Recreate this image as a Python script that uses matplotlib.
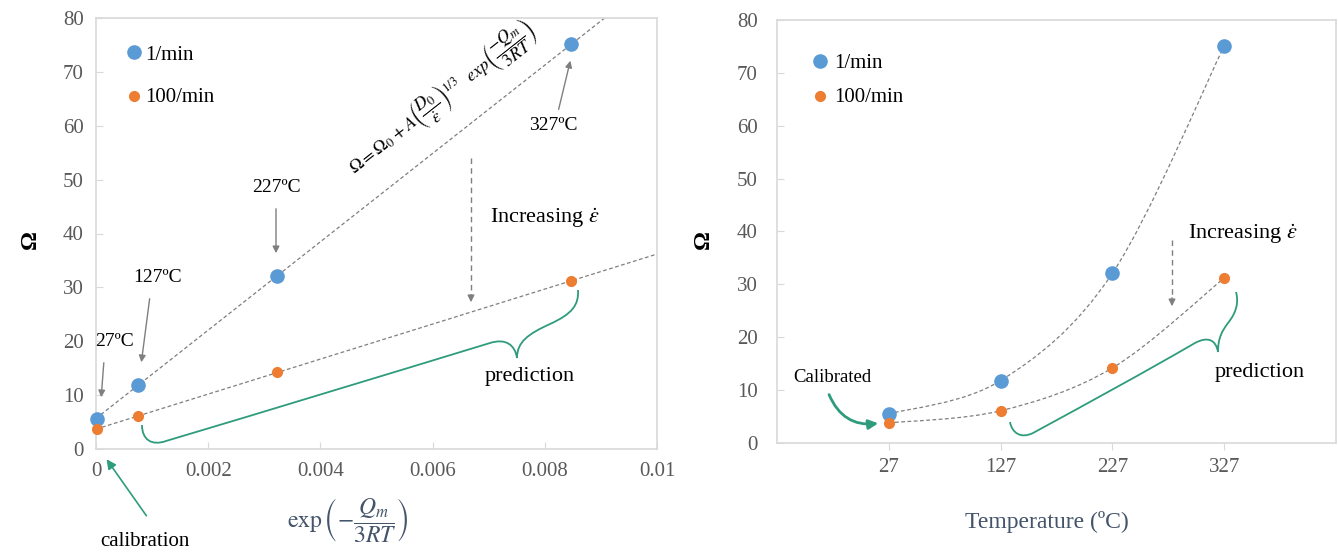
import matplotlib.pyplot as plt
import numpy as np
from matplotlib.lines import Line2D
from matplotlib.path import Path
from matplotlib.patches import PathPatch, FancyArrowPatch

plt.rcParams["font.family"] = ["Liberation Serif", "DejaVu Serif"]
plt.rcParams["mathtext.fontset"] = "stix"

# data
temps = [27, 127, 227, 327]
exp_term = [0.00002, 0.00075, 0.00322, 0.00847]
omega_slow = [5.5, 11.8, 32.1, 75.1]   # 1/min
omega_fast = [3.8, 6.1, 14.2, 31.2]    # 100/min
temp_labels = ["27ºC", "127ºC", "227ºC", "327ºC"]
left_xticks = [0, 0.002, 0.004, 0.006, 0.008, 0.01]
left_xticklabels = ["0", "0.002", "0.004", "0.006", "0.008", "0.01"]

W, H = 1338, 554
BLUE = "#5B9BD5"
ORANGE = "#ED7D31"
GREEN = "#2E9C7C"
GRAY = "#7F7F7F"
TICK = "#595959"
FRAME = "#D9D9D9"
LABEL = "#44546A"


def px(x, y):
    # pixel position in the picture -> figure fraction
    return (x / W, 1 - y / H)


def style(ax):
    for s in ax.spines.values():
        s.set_color(FRAME)
        s.set_linewidth(1.2)
    ax.tick_params(colors=FRAME, labelcolor=TICK, labelsize=15, length=5, direction="in")
    ax.set_ylim(0, 80)
    ax.set_yticks(range(0, 81, 10))


def smooth_path(xs, ys):
    # excel-like smoothed line through the points (bezier segments)
    pts = np.column_stack([xs, ys]).astype(float)
    n = len(pts)
    verts, codes = [pts[0]], [Path.MOVETO]
    for i in range(n - 1):
        p0, p1, p2, p3 = pts[max(i - 1, 0)], pts[i], pts[i + 1], pts[min(i + 2, n - 1)]
        verts += [p1 + (p2 - p0) / 6, p2 - (p3 - p1) / 6, p2]
        codes += [Path.CURVE4] * 3
    return Path(verts, codes)


def arrow(p_from, p_to, color=GRAY, lw=1.0, style="-|>", conn="arc3", scale=10):
    fig.add_artist(FancyArrowPatch(
        px(*p_from), px(*p_to), transform=fig.transFigure, arrowstyle=style,
        mutation_scale=scale, color=color, lw=lw, connectionstyle=conn))


def brace(points):
    codes = [Path.MOVETO] + [Path.CURVE4] * (len(points) - 1)
    verts = [px(*p) for p in points]
    fig.add_artist(PathPatch(Path(verts, codes), fill=False, edgecolor=GREEN,
                             lw=1.3, transform=fig.transFigure))


fig = plt.figure(figsize=(W / 100, H / 100), dpi=100)
ax1 = fig.add_axes([96 / W, 1 - 449 / H, (657 - 96) / W, (449 - 18) / H])
ax2 = fig.add_axes([777 / W, 1 - 443 / H, (1336 - 777) / W, (443 - 20) / H])

# ---------------- left panel ----------------
style(ax1)
ax1.set_xlim(0, 0.01)
ax1.set_xticks(left_xticks)
ax1.set_xticklabels(left_xticklabels)
ax1.tick_params(axis="x", pad=9)
ax1.tick_params(axis="y", pad=9)

xs = np.array([0, 0.01])
fit_slow = np.polyfit(exp_term[1:], omega_slow[1:], 1)
fit_fast = np.polyfit(exp_term[1:], omega_fast[1:], 1)
ax1.plot(xs, np.polyval(fit_slow, xs), ls=(0, (3, 2)), color=GRAY, lw=0.9)
ax1.plot(xs, np.polyval(fit_fast, xs), ls=(0, (3, 2)), color=GRAY, lw=0.9)
ax1.plot(exp_term, omega_slow, "o", color=BLUE, ms=9.5, zorder=5, clip_on=False)
ax1.plot(exp_term, omega_fast, "o", color=ORANGE, ms=7, zorder=5, clip_on=False)

# equation along the 1/min line
p1 = ax1.transData.transform((0.0, np.polyval(fit_slow, 0.0)))
p2 = ax1.transData.transform((0.008, np.polyval(fit_slow, 0.008)))
ang = np.degrees(np.arctan2(p2[1] - p1[1], p2[0] - p1[0]))
fig.text(*px(442, 99),
         r"$\Omega=\Omega_0+A\left(\dfrac{D_0}{\dot{\epsilon}}\right)^{1/3}\ \ exp\left(\dfrac{-Q_m}{3RT}\right)$",
         rotation=ang, rotation_mode="anchor", ha="center", va="center", fontsize=13)

# temperature labels + arrows
lab_pos = [(115, 342), (158, 278), (276, 188), (553, 126)]
arr_from = [(104, 360), (150, 296), (276, 206), (558, 112)]
arr_to = [(101, 400), (141, 365), (276, 256), (571, 58)]
for lab, pos, a, b in zip(temp_labels, lab_pos, arr_from, arr_to):
    fig.text(*px(*pos), lab, ha="center", va="center", fontsize=14)
    arrow(a, b)

fig.add_artist(Line2D([471 / W, 471 / W], [1 - 158 / H, 1 - 296 / H], ls=(0, (4, 3)),
                      color=GRAY, lw=1.0))
arrow((471, 292), (471, 305))
fig.text(*px(490, 218), r"Increasing $\dot{\varepsilon}$", ha="left", va="center", fontsize=16)

brace([(142, 425), (142, 440), (152, 446), (166, 441),
       (270, 410), (385, 375), (490, 343),
       (506, 338), (515, 345), (517, 358),
       (517, 342), (528, 334), (550, 324),
       (572, 314), (579, 305), (578, 290)])
fig.text(*px(530, 376), "prediction", ha="center", va="center", fontsize=16)

arrow((148, 518), (105, 457), color=GREEN, lw=1.2, scale=14)
fig.text(*px(145, 542), "calibration", ha="center", va="center", fontsize=15)

fig.text(*px(348, 520), r"$\exp\left(-\dfrac{Q_m}{3RT}\right)$", ha="center", va="center",
         fontsize=17, color=LABEL)
fig.text(*px(30, 240), "Ω", rotation=90, ha="center", va="center", fontsize=17,
         fontweight="bold")

# ---------------- right panel ----------------
style(ax2)
ax2.set_xlim(-73, 427)
ax2.set_xticks(temps)
ax2.tick_params(axis="x", direction="out", pad=6)
ax2.tick_params(axis="y", pad=14)

for vals in (omega_slow, omega_fast):
    ax2.add_patch(PathPatch(smooth_path(temps, vals), fill=False, edgecolor=GRAY,
                            lw=0.9, ls=(0, (3, 2))))
ax2.plot(temps, omega_slow, "o", color=BLUE, ms=9.5, zorder=5, clip_on=False)
ax2.plot(temps, omega_fast, "o", color=ORANGE, ms=7, zorder=5, clip_on=False)

fig.add_artist(Line2D([1172 / W, 1172 / W], [1 - 240 / H, 1 - 298 / H], ls=(0, (4, 3)),
                      color=GRAY, lw=1.0))
arrow((1172, 295), (1172, 309))
fig.text(*px(1188, 234), r"Increasing $\dot{\varepsilon}$", ha="left", va="center", fontsize=16)

brace([(1010, 422), (1012, 433), (1021, 439), (1033, 433),
       (1090, 402), (1145, 372), (1195, 343),
       (1208, 336), (1216, 340), (1218, 352),
       (1218, 338), (1222, 331), (1228, 323),
       (1236, 313), (1239, 303), (1236, 292)])
fig.text(*px(1260, 373), "prediction", ha="center", va="center", fontsize=16)

arrow((828, 392), (881, 423), color=GREEN, lw=2.0, scale=14, conn="arc3,rad=0.4")
fig.text(*px(832, 377), "Calibrated", ha="center", va="center", fontsize=13.5)

fig.text(*px(1047, 522), "Temperature (ºC)", ha="center", va="center", fontsize=17,
         color=LABEL)
fig.text(*px(703, 240), "Ω", rotation=90, ha="center", va="center", fontsize=17,
         fontweight="bold")

# legends drawn by hand like the original
legend_pos = [((134, 52), (134, 96), 145), ((820, 61), (820, 96), 834)]
for (bx, by), (ox, oy), tx in legend_pos:
    fig.add_artist(Line2D([bx / W], [1 - by / H], marker="o", color=BLUE, ms=9.5))
    fig.add_artist(Line2D([ox / W], [1 - oy / H], marker="o", color=ORANGE, ms=7))
    fig.text(*px(tx, by + 3), "1/min", ha="left", va="center", fontsize=15)
    fig.text(*px(tx, oy + 2), "100/min", ha="left", va="center", fontsize=15)

fig.savefig("out.png", dpi=100)
